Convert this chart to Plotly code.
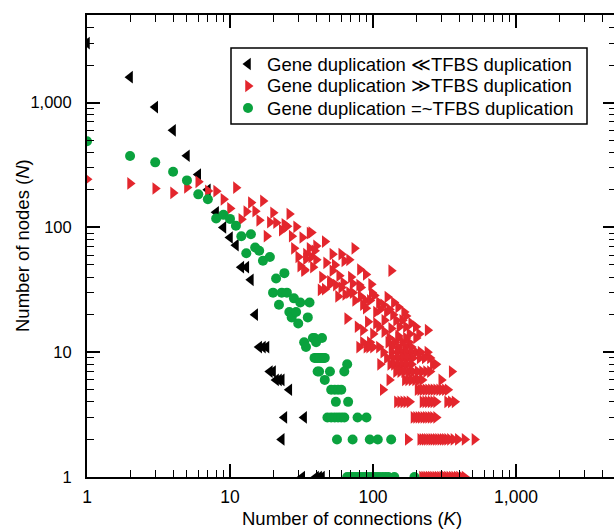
import plotly.graph_objects as go

# ---------------- data (K = connections, N = nodes) ----------------
black_k = [1, 2, 3, 4, 5, 6, 7, 8, 9, 10, 11, 12, 13, 14, 15, 16, 17, 18, 19, 20,
           21, 22, 23, 26, 24, 33, 23, 32, 40, 42, 44]
black_n = [3000, 1600, 920, 600, 375, 265, 200, 132, 100, 83, 72, 48, 48, 38, 20, 11, 11, 11, 7, 7,
           6, 6, 6, 5, 3, 3, 2, 1, 1, 1, 1]

green_k = [1, 2, 3, 4, 5, 6, 7, 8, 9, 10, 11, 12, 13, 14, 15, 16, 17, 19,
           20, 21, 22, 23, 24, 25, 26, 27, 28, 29, 30, 31, 33, 34, 35, 36, 38, 39, 40, 41, 44,
           39, 40, 41, 42, 43, 44, 45, 46,
           66,
           42, 50, 63,
           46,
           51, 54, 57, 60,
           55, 67,
           48, 51, 54, 57, 60, 63, 78, 90,
           56, 72, 95, 108, 134,
           66, 69, 72, 75, 78, 82, 86, 90, 95, 100, 105, 110, 116, 122, 128, 141, 195]
green_n = [490, 373, 332, 279, 238, 184, 168, 118, 126, 117, 103, 85, 62, 88, 69, 65, 54, 58,
           30, 39, 24, 30, 43, 30, 21, 19, 27, 21, 17, 25, 12, 11, 19, 25, 13, 13, 12, 7, 13,
           9, 9, 9, 9, 9, 9, 9, 9,
           8,
           7, 7, 7,
           6,
           5, 5, 5, 5,
           4, 4,
           3, 3, 3, 3, 3, 3, 3, 3,
           2, 2, 2, 2, 2,
           1, 1, 1, 1, 1, 1, 1, 1, 1, 1, 1, 1, 1, 1, 1, 1, 1]

red_k = [1, 2, 3, 4, 5, 6, 7, 8, 9, 10, 11,
         12, 13, 14, 15, 16, 17, 18, 19, 20, 21, 23, 24, 25, 26, 27, 28, 29, 30, 31, 32, 33, 34,
         36, 37, 38, 40, 40, 37, 46, 36, 39, 52, 60, 74, 68, 34, 47, 54, 63, 52, 33, 81, 89, 134,
         44, 58, 70, 50, 80, 97, 55, 46, 72, 82, 50, 60, 64, 68, 57, 62, 43,
         66, 78, 89, 105, 92, 105, 120, 134, 153, 170, 120, 150, 170, 199, 241, 102, 126,
         72, 75, 82, 85, 88, 95, 98, 110, 112, 118, 125, 130, 138, 140, 145, 160, 165, 180, 185,
         100, 85, 110, 150, 210,
         130, 150, 170, 200,
         85, 95, 128, 142, 160, 178,
         80, 90, 94, 100, 110, 135, 150, 168, 185,
         118, 135, 148, 160, 172, 185, 200, 215, 240,
         125, 138, 150, 162, 175, 190, 212, 230, 250,
         112, 132, 140, 150, 160, 172, 185, 262, 275,
         145, 155, 165, 178, 190, 205, 220, 235, 250, 355,
         130, 167, 176, 186, 197, 208, 220, 300,
         117, 205, 214, 223, 233, 243, 254, 265, 277, 290, 303, 318, 333,
         147, 155, 163, 171, 180, 222, 232, 242, 253, 264, 276, 330, 350, 372,
         192, 200, 208, 216, 225, 234, 243, 253, 263, 276,
         175, 214, 222, 230, 238, 247, 256, 265, 275, 285, 296, 307, 318, 330, 345, 365, 392, 437, 512,
         220, 228, 236, 245, 254, 263, 273, 283, 294, 305, 317, 329, 342, 356, 370, 385, 400, 418, 437]
red_n = [243, 225, 205, 189, 209, 232, 196, 195, 168, 142, 208,
         116, 134, 158, 135, 114, 163, 85, 110, 131, 109, 95, 106, 102, 128, 85, 68, 101, 58, 49, 83, 46, 61,
         90, 58, 48, 55, 71, 91, 77, 68, 65, 61, 61, 68, 55, 56, 52, 50, 54, 45, 45, 46, 42, 45,
         40, 41, 40, 37, 34.5, 35, 34.5, 32, 35.5, 33, 35, 33, 29, 30, 28, 36, 31.6,
         18.6, 16, 22.5, 21, 17.5, 17, 18, 15.5, 16, 16, 14.6, 23, 19.5, 16, 15, 28.5, 27.7,
         30, 26, 28, 24, 26, 26, 30, 25, 22, 24, 21, 22, 20, 25, 18, 18, 21, 14, 17,
         14, 15, 16, 13.5, 14,
         13, 13, 13, 13,
         12, 12, 12, 12, 12, 12,
         11, 11, 11, 11, 11, 11, 11, 11, 11,
         10, 10, 10, 10, 10, 10, 10, 10, 10,
         9, 9, 9, 9, 9, 9, 9, 9, 9,
         8, 8, 8, 8, 8, 8, 8, 8, 8,
         7, 7, 7, 7, 7, 7, 7, 7, 7, 7,
         6, 6, 6, 6, 6, 6, 6, 6,
         5, 5, 5, 5, 5, 5, 5, 5, 5, 5, 5, 5, 5,
         4, 4, 4, 4, 4, 4, 4, 4, 4, 4, 4, 4, 4, 4,
         3, 3, 3, 3, 3, 3, 3, 3, 3, 3,
         2, 2, 2, 2, 2, 2, 2, 2, 2, 2, 2, 2, 2, 2, 2, 2, 2, 2, 2,
         1, 1, 1, 1, 1, 1, 1, 1, 1, 1, 1, 1, 1, 1, 1, 1, 1, 1, 1]

series_names = ["Gene duplication \u226aTFBS duplication",
                "Gene duplication \u226bTFBS duplication",
                "Gene duplication =~TFBS duplication"]

major_vals = [1, 10, 100, 1000]
major_text = ["1", "10", "100", "1,000"]
minor_vals = [m * d for d in (1, 10, 100, 1000) for m in range(2, 10) if m * d < 5000]

FONT = "Liberation Sans, Arial, Helvetica, sans-serif"
BLACK = "#000000"
RED = "#E3262D"
GREEN = "#0AA23E"
colors = [BLACK, RED, GREEN]
symbols = ["triangle-left", "triangle-right", "circle"]
sizes = [11, 11, 10]

# layout geometry (pixels)
W, H = 616, 530
ML, MR, MT, MB = 87, 0, 15, 53
PW, PH = W - ML - MR, H - MT - MB


def px_x(p):
    return (p - ML) / PW


def px_y(p):
    return (H - MB - p) / PH


fig = go.Figure()
for k, n, name, c, s, sz in zip([black_k, red_k, green_k], [black_n, red_n, green_n],
                                series_names, colors, symbols, sizes):
    fig.add_trace(go.Scatter(x=k, y=n, mode="markers", name=name, showlegend=False,
                             marker=dict(symbol=s, size=sz, color=c, line=dict(width=0))))

# legend keys drawn on a hidden overlay axis (0..1 = plot area)
legend_rows = [px_y(64), px_y(86), px_y(108)]
for row_y, name, c, s, sz in zip(legend_rows, series_names, colors, symbols, sizes):
    fig.add_trace(go.Scatter(x=[px_x(248)], y=[row_y], mode="markers", showlegend=False,
                             xaxis="x2", yaxis="y2", hoverinfo="skip",
                             marker=dict(symbol=s, size=sz, color=c, line=dict(width=0))))
    fig.add_annotation(x=px_x(265), y=row_y, xref="paper", yref="paper",
                       text=name, showarrow=False, xanchor="left", yanchor="middle",
                       font=dict(family=FONT, size=18.5, color="black"))

fig.add_shape(type="rect", xref="paper", yref="paper",
              x0=px_x(231), x1=px_x(587), y0=px_y(124), y1=px_y(48),
              line=dict(color="black", width=1.5), fillcolor="white", layer="below")

axis_common = dict(
    type="log", showgrid=False, zeroline=False, automargin=False,
    showline=True, linecolor="black", linewidth=2, mirror="ticks",
    ticks="inside", ticklen=13, tickwidth=1.5, tickcolor="black",
    tickvals=major_vals, ticktext=major_text,
    minor=dict(tickvals=minor_vals, ticks="inside", ticklen=7, tickwidth=1.2,
               tickcolor="black", showgrid=False),
)

fig.update_xaxes(**axis_common, range=[0, PW / 143.0], ticklabelstandoff=3,
                 tickfont=dict(family=FONT, size=17.5, color="black"))
fig.update_yaxes(**axis_common, range=[0, PH / 124.8], ticklabelstandoff=10,
                 tickfont=dict(family=FONT, size=16.5, color="black"))

# axis titles
fig.add_annotation(x=0.5, y=px_y(518), xref="paper", yref="paper", showarrow=False,
                   text="Number of connections (<i>K</i>)", xanchor="center", yanchor="middle",
                   font=dict(family=FONT, size=18.5, color="black"))
fig.add_annotation(x=px_x(22), y=0.5, xref="paper", yref="paper", showarrow=False,
                   text="Number of nodes (<i>N</i>)", textangle=-90,
                   xanchor="center", yanchor="middle",
                   font=dict(family=FONT, size=18.5, color="black"))

fig.update_layout(
    width=W, height=H,
    margin=dict(l=ML, r=MR, t=MT, b=MB, autoexpand=False),
    paper_bgcolor="white", plot_bgcolor="white",
    showlegend=False,
    xaxis2=dict(overlaying="x", range=[0, 1], visible=False, fixedrange=True),
    yaxis2=dict(overlaying="y", range=[0, 1], visible=False, fixedrange=True),
)

fig.write_html("out.html", config={"displayModeBar": False},
               post_script="document.body.style.margin='0px';")
